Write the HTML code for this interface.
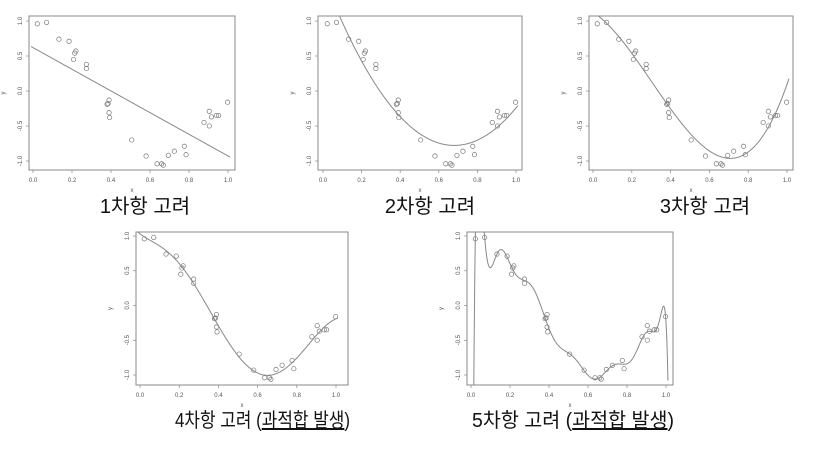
<!DOCTYPE html>
<html><head><meta charset="utf-8">
<style>
html,body{margin:0;padding:0;background:#fff;overflow:hidden;width:817px;height:451px;}
svg{display:block;}
.cap{font-family:"Liberation Sans","Noto Sans CJK KR",sans-serif;font-size:20px;fill:#111;}
.tk{font-family:"Liberation Sans",sans-serif;font-size:6px;fill:#555;}
</style></head>
<body>
<svg id="c" width="817" height="451"></svg>
<script>
const xs=[0.022,0.07,0.133,0.185,0.208,0.214,0.22,0.274,0.274,0.38,0.385,0.39,0.39,0.393,0.506,0.58,0.636,0.66,0.668,0.694,0.725,0.776,0.785,0.877,0.904,0.904,0.915,0.94,0.952,0.998];
const ys=[0.96,0.98,0.74,0.71,0.45,0.54,0.57,0.38,0.32,-0.19,-0.18,-0.13,-0.31,-0.38,-0.70,-0.93,-1.04,-1.04,-1.06,-0.92,-0.86,-0.79,-0.91,-0.45,-0.29,-0.50,-0.37,-0.35,-0.35,-0.16];
const degrees=[1,2,3,6,14];
const captions=["1차항 고려","2차항 고려","3차항 고려","4차항 고려 ","5차항 고려 "];
const xTicks=[0,0.2,0.4,0.6,0.8,1.0];
const xTickLabels=["0.0","0.2","0.4","0.6","0.8","1.0"];
const yTicks=[1,0.5,0,-0.5,-1];
const yTickLabels=["1.0","0.5","0.0","-0.5","-1.0"];

const panels=[
 {bx0:29,by0:16,bx1:235,by1:170,px0:33,px1:228,py1:21,pym1:161,capx:145,capy:213,over:false},
 {bx0:318,by0:16,bx1:522,by1:170,px0:323,px1:516,py1:21,pym1:161,capx:430,capy:213,over:false},
 {bx0:589,by0:16,bx1:793,by1:170,px0:593,px1:787,py1:21,pym1:161,capx:705,capy:213,over:false},
 {bx0:136,by0:232,bx1:348,by1:385,px0:140,px1:336,py1:236,pym1:375,capx:175,capy:427,over:true,capw:175},
 {bx0:467,by0:232,bx1:673,by1:385,px0:471,px1:666,py1:236,pym1:375,capx:472,capy:427,over:true,capw:202}
];
const NS="http://www.w3.org/2000/svg";
const svg=document.getElementById('c');
function mk(t,a,p){const e=document.createElementNS(NS,t);for(const k in a)e.setAttribute(k,a[k]);(p||svg).appendChild(e);return e;}

function cheb(x,d){const u=2*x-1;const T=[1,u];for(let k=2;k<=d;k++)T.push(2*u*T[k-1]-T[k-2]);return T.slice(0,d+1);}
function fit(d){
 const n=d+1;const A=[];const b=[];
 for(let i=0;i<n;i++){A.push(new Array(n).fill(0));b.push(0);}
 xs.forEach((x,j)=>{const t=cheb(x,d);for(let i=0;i<n;i++){b[i]+=t[i]*ys[j];for(let k=0;k<n;k++)A[i][k]+=t[i]*t[k];}});
 for(let i=0;i<n;i++)A[i][i]+=1e-9;
 for(let i=0;i<n;i++){let p=i;for(let r=i+1;r<n;r++)if(Math.abs(A[r][i])>Math.abs(A[p][i]))p=r;
  [A[i],A[p]]=[A[p],A[i]];[b[i],b[p]]=[b[p],b[i]];
  for(let r=i+1;r<n;r++){const f=A[r][i]/A[i][i];for(let k=i;k<n;k++)A[r][k]-=f*A[i][k];b[r]-=f*b[i];}}
 const c=new Array(n).fill(0);
 for(let i=n-1;i>=0;i--){let s=b[i];for(let k=i+1;k<n;k++)s-=A[i][k]*c[k];c[i]=s/A[i][i];}
 return x=>{const t=cheb(x,d);let s=0;for(let i=0;i<n;i++)s+=c[i]*t[i];return s;};
}

panels.forEach((P,pi)=>{
 const g=mk('g',{});
 
 
 const X=v=>P.px0+(P.px1-P.px0)*v;
 const Y=v=>P.pym1+(P.py1-P.pym1)*(v+1)/2;
 const cid='clip'+pi;
 const cp=mk('clipPath',{id:cid},g);mk('rect',{x:P.bx0,y:P.by0,width:P.bx1-P.bx0,height:P.by1-P.by0},cp);
 const box=mk('rect',{x:P.bx0,y:P.by0,width:P.bx1-P.bx0,height:P.by1-P.by0,fill:'none',stroke:'#888','stroke-width':1},g);
 
 
 xTicks.forEach((v,i)=>{
  mk('line',{x1:X(v),x2:X(v),y1:P.by1,y2:P.by1+3,stroke:'#888','stroke-width':0.7},g);
  const t=mk('text',{x:X(v),y:P.by1+12,'text-anchor':'middle',class:'tk'},g);t.textContent=xTickLabels[i];
  
  
 });
 yTicks.forEach((v,i)=>{
  mk('line',{x1:P.bx0-3,x2:P.bx0,y1:Y(v),y2:Y(v),stroke:'#888','stroke-width':0.7},g);
  const tx=P.bx0-7, ty=Y(v);
  const t=mk('text',{x:tx,y:ty,'text-anchor':'middle',class:'tk',transform:`rotate(-90 ${tx} ${ty})`},g);t.textContent=yTickLabels[i];
  
  
 });
 const xl=mk('text',{x:(P.bx0+P.bx1)/2,y:P.by1+22,'text-anchor':'middle',class:'tk'},g);xl.textContent='x';
 
 
 const yx=P.bx0-24,yy=(P.by0+P.by1)/2;
 const yl=mk('text',{x:yx,y:yy,'text-anchor':'middle',class:'tk',transform:`rotate(-90 ${yx} ${yy})`},g);yl.textContent='y';
 
 
 xs.forEach((x,j)=>{
  const c=mk('circle',{cx:X(x),cy:Y(ys[j]),r:2.2,fill:'none',stroke:'#777','stroke-width':0.7},g);
  
  
 });
 const f=fit(degrees[pi]);
 let d='';for(let k=0;k<=400;k++){const x=-0.01+1.02*k/400;let y=f(x);y=Math.max(-5,Math.min(5,y));d+=(k?'L':'M')+X(x).toFixed(2)+' '+Y(y).toFixed(2);}
 const path=mk('path',{d:d,fill:'none',stroke:'#888','stroke-width':1,'clip-path':`url(#${cid})`},g);
 
 
 const attrs={x:P.capx,y:P.capy,'text-anchor':P.over?'start':'middle',class:'cap'};
 if(P.over){attrs.textLength=P.capw;attrs.lengthAdjust='spacingAndGlyphs';}
 const cap=mk('text',attrs,g);
 
 
 cap.appendChild(document.createTextNode(captions[pi]));
 if(P.over){
  cap.appendChild(document.createTextNode('('));
  const u=mk('tspan',{'text-decoration':'underline'},cap);u.textContent='과적합 발생';
  cap.appendChild(document.createTextNode(')'));
 }
});
</script>
</body></html>
